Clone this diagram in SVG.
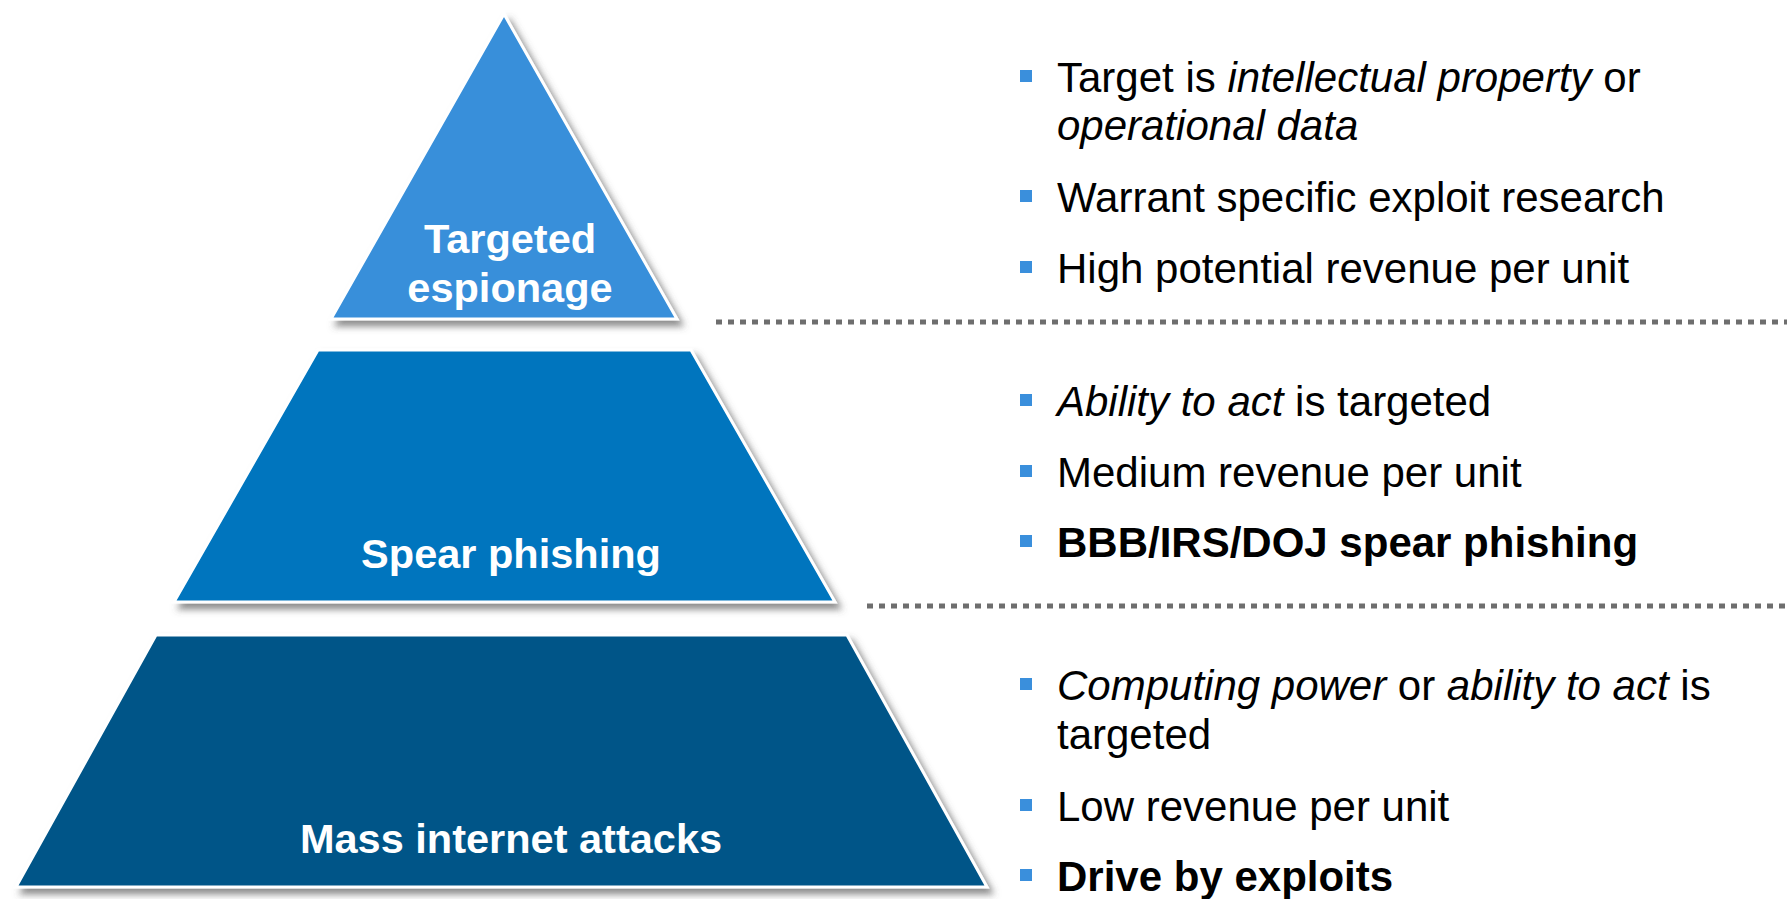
<svg xmlns="http://www.w3.org/2000/svg" width="1787" height="899" viewBox="0 0 1787 899">
  <defs>
    <filter id="shadow" x="-10%" y="-10%" width="125%" height="130%">
      <feGaussianBlur in="SourceAlpha" stdDeviation="3.5" result="blur"/>
      <feOffset in="blur" dx="5" dy="6" result="off"/>
      <feFlood flood-color="#505050" flood-opacity="0.65"/>
      <feComposite in2="off" operator="in" result="sh"/>
      <feMerge>
        <feMergeNode in="sh"/>
        <feMergeNode in="SourceGraphic"/>
      </feMerge>
    </filter>
  </defs>
  <style>
    .tier { stroke: #ffffff; stroke-width: 3; stroke-linejoin: miter; filter: url(#shadow); }
    .t1 { fill: #388fda; }
    .t2 { fill: #0075be; }
    .t3 { fill: #005588; }
    .label { font-family: "Liberation Sans", Arial, sans-serif; font-weight: bold; font-size: 41.5px; fill: #ffffff; text-anchor: middle; }
    .item { font-family: "Liberation Sans", Arial, sans-serif; font-size: 42px; fill: #000000; }
    .it { font-style: italic; }
    .b { font-weight: bold; }
    .bullet { fill: #3a8fdc; }
    .divider { stroke: #6e6e6e; stroke-width: 5; stroke-dasharray: 6 6; fill: none; }
  </style>

  <rect width="1787" height="899" fill="#ffffff"/>

  <!-- pyramid tiers -->
  <g id="tier-targeted-espionage">
    <path class="tier t1" d="M504,14 L677,319 L331,319 Z"/>
    <text class="label" x="510" y="253">Targeted</text>
    <text class="label" x="510" y="302">espionage</text>
  </g>
  <g id="tier-spear-phishing">
    <path class="tier t2" d="M318,350 L691,350 L835,602 L174,602 Z"/>
    <text class="label" x="511" y="568">Spear phishing</text>
  </g>
  <g id="tier-mass-attacks">
    <path class="tier t3" d="M156,635 L847,635 L987,887 L16,887 Z"/>
    <text class="label" x="511" y="853">Mass internet attacks</text>
  </g>

  <!-- dotted separators between tiers -->
  <g id="connectors">
    <line class="divider" x1="716" y1="322" x2="1787" y2="322"/>
    <line class="divider" x1="867" y1="606" x2="1787" y2="606"/>
  </g>

  <!-- descriptions: top tier -->
  <g id="notes-targeted-espionage">
    <rect class="bullet" x="1020" y="70" width="12" height="12"/>
    <text class="item" x="1057" y="92">Target is <tspan class="it">intellectual property</tspan> or</text>
    <text class="item it" x="1057" y="140">operational data</text>
    <rect class="bullet" x="1020" y="190" width="12" height="12"/>
    <text class="item" x="1057" y="212">Warrant specific exploit research</text>
    <rect class="bullet" x="1020" y="261" width="12" height="12"/>
    <text class="item" x="1057" y="283">High potential revenue per unit</text>
  </g>

  <!-- descriptions: middle tier -->
  <g id="notes-spear-phishing">
    <rect class="bullet" x="1020" y="394" width="12" height="12"/>
    <text class="item" x="1057" y="416"><tspan class="it">Ability to act</tspan> is targeted</text>
    <rect class="bullet" x="1020" y="465" width="12" height="12"/>
    <text class="item" x="1057" y="487">Medium revenue per unit</text>
    <rect class="bullet" x="1020" y="535" width="12" height="12"/>
    <text class="item b" x="1057" y="557">BBB/IRS/DOJ spear phishing</text>
  </g>

  <!-- descriptions: bottom tier -->
  <g id="notes-mass-attacks">
    <rect class="bullet" x="1020" y="678" width="12" height="12"/>
    <text class="item" x="1057" y="700"><tspan class="it">Computing power</tspan> or <tspan class="it">ability to act</tspan> is</text>
    <text class="item" x="1057" y="749">targeted</text>
    <rect class="bullet" x="1020" y="799" width="12" height="12"/>
    <text class="item" x="1057" y="821">Low revenue per unit</text>
    <rect class="bullet" x="1020" y="869" width="12" height="12"/>
    <text class="item b" x="1057" y="891">Drive by exploits</text>
  </g>
</svg>
